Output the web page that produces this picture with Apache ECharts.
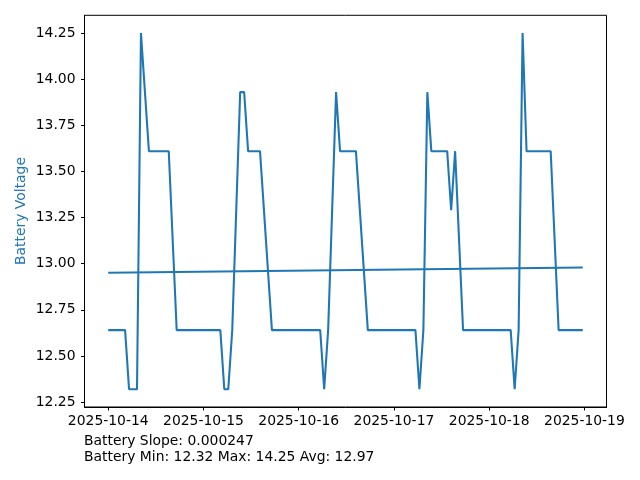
<!DOCTYPE html>
<html>
<head>
<meta charset="utf-8">
<script src="https://cdn.jsdelivr.net/npm/echarts@6/dist/echarts.min.js"></script>
<style>
html,body{margin:0;padding:0;background:#fff;}
#c{width:640px;height:480px;}
</style>
</head>
<body>
<div id="c"></div>
<script>
const times = [
 '2025-10-14 00:00','2025-10-14 04:15','2025-10-14 05:15','2025-10-14 07:15','2025-10-14 08:15',
 '2025-10-14 10:15','2025-10-14 15:15','2025-10-14 17:15',
 '2025-10-15 04:15','2025-10-15 05:15','2025-10-15 06:15','2025-10-15 07:15','2025-10-15 09:15',
 '2025-10-15 10:15','2025-10-15 11:15','2025-10-15 14:15','2025-10-15 17:15',
 '2025-10-16 05:25','2025-10-16 06:25','2025-10-16 07:25','2025-10-16 09:25','2025-10-16 10:25',
 '2025-10-16 14:25','2025-10-16 17:25',
 '2025-10-17 05:25','2025-10-17 06:25','2025-10-17 07:25','2025-10-17 08:25','2025-10-17 09:25',
 '2025-10-17 13:25','2025-10-17 14:25','2025-10-17 15:25','2025-10-17 17:25',
 '2025-10-18 05:25','2025-10-18 06:25','2025-10-18 07:25','2025-10-18 08:25','2025-10-18 09:25',
 '2025-10-18 15:30','2025-10-18 17:30','2025-10-18 23:35'
];
const voltage = [
 12.64,12.64,12.32,12.32,14.25,
 13.61,13.61,12.64,
 12.64,12.32,12.32,12.64,13.93,
 13.93,13.61,13.61,12.64,
 12.64,12.32,12.64,13.93,13.61,
 13.61,12.64,
 12.64,12.32,12.64,13.93,13.61,
 13.61,13.29,13.61,12.64,
 12.64,12.32,12.64,14.25,13.61,
 13.61,12.64,12.64
];
const trendValues = [12.951, 12.980];
const xTickDates = ['2025-10-14','2025-10-15','2025-10-16','2025-10-17','2025-10-18','2025-10-19'];
const yTicks = [12.25,12.50,12.75,13.00,13.25,13.50,13.75,14.00,14.25];
const yLabel = 'Battery Voltage';
const footer1 = 'Battery Slope: 0.000247';
const footer2 = 'Battery Min: 12.32 Max: 14.25 Avg: 12.97';

function toMs(s){
  const parts = s.split(' ');
  const d = parts[0].split('-').map(Number);
  const t = (parts[1] || '00:00').split(':').map(Number);
  return Date.UTC(d[0], d[1]-1, d[2], t[0], t[1]);
}
const xs = times.map(toMs);
const lineData = xs.map((x,i)=>[x, voltage[i]]);
const trendData = [[xs[0], trendValues[0]], [xs[xs.length-1], trendValues[1]]];
const xTicks = xTickDates.map(toMs);

const xSpan = xs[xs.length-1]-xs[0];
const xMin = xs[0]-0.05*xSpan, xMax = xs[xs.length-1]+0.05*xSpan;
const vMin = Math.min(...voltage), vMax = Math.max(...voltage);
const ySpan = vMax - vMin;
const yMin = vMin-0.05*ySpan, yMax = vMax+0.05*ySpan;

function pad(n){return (n<10?'0':'')+n;}
function fmtDate(v){
  const d = new Date(v);
  return d.getUTCFullYear()+'-'+pad(d.getUTCMonth()+1)+'-'+pad(d.getUTCDate());
}

const FONT = 'DejaVu Sans';
const chart = echarts.init(document.getElementById('c'), null, {renderer:'canvas'});
chart.setOption({
  animation:false,
  backgroundColor:'#fff',
  grid:{left:84.5, right:33.5, top:15.3, bottom:73, show:true, borderColor:'#000', borderWidth:1, backgroundColor:'transparent'},
  xAxis:{
    type:'value', min:xMin, max:xMax,
    axisLine:{show:true, onZero:false, lineStyle:{color:'#000', width:1}},
    axisTick:{show:true, length:3.5, inside:false, customValues:xTicks, lineStyle:{color:'#000', width:1}},
    axisLabel:{customValues:xTicks, formatter:fmtDate, color:'#000', fontFamily:FONT, fontSize:13.9, margin:7},
    splitLine:{show:false}
  },
  yAxis:{
    type:'value', min:yMin, max:yMax,
    axisLine:{show:true, onZero:false, lineStyle:{color:'#000', width:1}},
    axisTick:{show:true, length:3.5, inside:false, customValues:yTicks, lineStyle:{color:'#000', width:1}},
    axisLabel:{customValues:yTicks, formatter:(v)=>v.toFixed(2), color:'#000', fontFamily:FONT, fontSize:13.9, margin:9},
    splitLine:{show:false}
  },
  graphic:[
    {type:'text', x:21, y:211, rotation:Math.PI/2, style:{text:yLabel, fill:'#1f77b4', font:'13.9px "DejaVu Sans"', align:'center', verticalAlign:'middle'}},
    {type:'text', left:84, top:434, style:{text:footer1, fill:'#000', font:'13.9px "DejaVu Sans"'}},
    {type:'text', left:84, top:450, style:{text:footer2, fill:'#000', font:'13.9px "DejaVu Sans"'}}
  ],
  series:[
    {type:'line', data:lineData, showSymbol:false, symbol:'none', lineStyle:{color:'#1f77b4', width:2.08}, itemStyle:{color:'#1f77b4'}},
    {type:'line', data:trendData, showSymbol:false, symbol:'none', lineStyle:{color:'#1f77b4', width:2.08}, itemStyle:{color:'#1f77b4'}}
  ]
});
</script>
</body>
</html>
